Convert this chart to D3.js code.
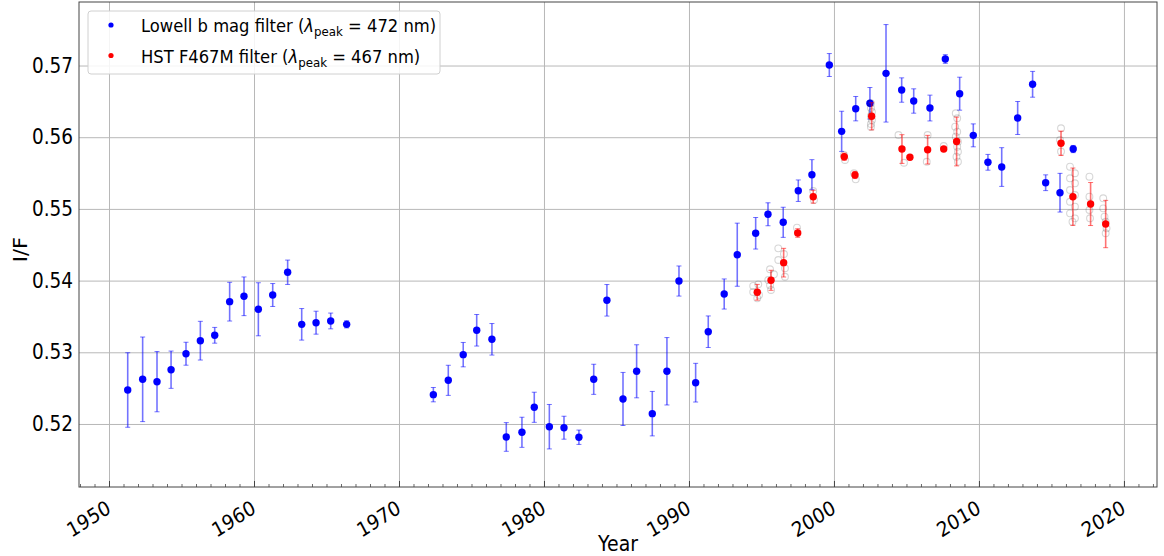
<!DOCTYPE html>
<html>
<head>
<meta charset="utf-8">
<script src="https://cdn.jsdelivr.net/npm/d3@7"></script>
<style>
  html, body { margin: 0; padding: 0; background: #fff; }
  svg { display: block; font-family: "DejaVu Sans", sans-serif; }
</style>
</head>
<body>
<svg id="chart" width="1164" height="556"></svg>
<script>
// Lowell Observatory b-filter photometry (decimal year, I/F, 1-sigma)
const lowellYears = [1951.29, 1952.32, 1953.31, 1954.28, 1955.31, 1956.30, 1957.29, 1958.32, 1959.31, 1960.30,
  1961.29, 1962.32, 1963.29, 1964.28, 1965.29, 1966.39, 1972.37, 1973.40, 1974.43, 1975.36,
  1976.41, 1977.40, 1978.48, 1979.33, 1980.37, 1981.38, 1982.41, 1983.43, 1984.34, 1985.45,
  1986.39, 1987.47, 1988.48, 1989.31, 1990.46, 1991.33, 1992.43, 1993.33, 1994.60, 1995.45,
  1996.50, 1997.54, 1998.48, 1999.68, 2000.53, 2001.50, 2002.48, 2003.59, 2004.67, 2005.50,
  2006.62, 2007.68, 2008.67, 2009.61, 2010.62, 2011.57, 2012.67, 2013.70, 2014.60, 2015.59, 2016.50];
const lowellIF = [0.52474, 0.52623, 0.52590, 0.52757, 0.52980, 0.53162, 0.53237, 0.53706, 0.53781, 0.53600,
  0.53799, 0.54116, 0.53390, 0.53413, 0.53437, 0.53390, 0.52409, 0.52609, 0.52967, 0.53307,
  0.53181, 0.51819, 0.51884, 0.52233, 0.51962, 0.51948, 0.51815, 0.52623, 0.53725, 0.52349,
  0.52735, 0.52144, 0.52735, 0.53994, 0.52576, 0.53287, 0.53813, 0.54361, 0.54660, 0.54925,
  0.54813, 0.55254, 0.55477, 0.57007, 0.56082, 0.56398, 0.56473, 0.56891, 0.56658, 0.56505,
  0.56407, 0.57091, 0.56607, 0.56026, 0.55650, 0.55584, 0.56268, 0.56738, 0.55365, 0.55226, 0.55835];
const lowellErr = [0.0052, 0.0059, 0.0042, 0.0026, 0.0016, 0.0027, 0.0011, 0.0027, 0.0027, 0.0037,
  0.0016, 0.0017, 0.0022, 0.0016, 0.0011, 0.0005, 0.0010, 0.0021, 0.0017, 0.0022,
  0.0022, 0.0020, 0.0021, 0.0021, 0.0031, 0.0016, 0.0010, 0.0021, 0.0022, 0.0037,
  0.0037, 0.0031, 0.0047, 0.0021, 0.0027, 0.0022, 0.0021, 0.0044, 0.0022, 0.0016,
  0.0021, 0.0015, 0.0021, 0.0016, 0.0028, 0.0017, 0.0022, 0.0068, 0.0017, 0.0017,
  0.0018, 0.0006, 0.0023, 0.0016, 0.0011, 0.0027, 0.0023, 0.0018, 0.0011, 0.0027, 0.0005];

// HST WFPC2 / WFC3 F467M epochs (mean I/F and 1-sigma)
const hstYears = [1994.71, 1995.66, 1996.53, 1997.50, 1998.57, 2000.71, 2001.45, 2002.60, 2004.69,
  2005.24, 2006.46, 2007.57, 2008.46, 2015.66, 2016.48, 2017.70, 2018.74];
const hstIF = [0.53837, 0.54004, 0.54250, 0.54664, 0.55170, 0.55728, 0.55473, 0.56292, 0.55835,
  0.55720, 0.55826, 0.55835, 0.55940, 0.55915, 0.55170, 0.55068, 0.54789];
const hstErr = [0.0011, 0.0014, 0.0020, 0.0006, 0.0009, 0.0005, 0.0005, 0.0019, 0.0020,
  0.0002, 0.0020, 0.0002, 0.0034, 0.0017, 0.0040, 0.0030, 0.0033];

// Individual HST frames behind each epoch mean
const frameYears = [1994.43, 1994.78, 1994.43, 1994.71, 1994.83,
  1995.59, 1995.86, 1995.59, 1995.66, 1995.47,
  1996.16, 1996.55, 1996.16, 1996.62, 1996.62,
  1997.45, 1998.57, 1998.62,
  2000.69, 2000.76, 2001.38, 2001.50,
  2002.55, 2002.55, 2002.62, 2002.55, 2002.62, 2002.55, 2002.55,
  2004.45, 2004.83, 2006.46, 2006.40, 2007.57,
  2008.40, 2008.50, 2008.36, 2008.50, 2008.40, 2008.55, 2008.50, 2008.55, 2008.45, 2008.55,
  2015.66, 2015.66, 2015.59,
  2016.28, 2016.62, 2016.28, 2016.62, 2016.28, 2016.62, 2016.28, 2016.62, 2016.28, 2016.62, 2016.45,
  2017.62, 2017.62, 2017.62, 2017.66,
  2018.57, 2018.57, 2018.66, 2018.74, 2018.80, 2018.74];
const frameIF = [0.53925, 0.53948, 0.53841, 0.53753, 0.53799,
  0.54158, 0.54088, 0.53934, 0.53869, 0.54008,
  0.54450, 0.54371, 0.54287, 0.54172, 0.54054,
  0.54738, 0.55250, 0.55124,
  0.55752, 0.55682, 0.55497, 0.55413,
  0.56473, 0.56407, 0.56351, 0.56296, 0.56240, 0.56184, 0.56142,
  0.56031, 0.55644, 0.56031, 0.55658, 0.55877,
  0.56334, 0.56264, 0.56147, 0.56077, 0.56007, 0.55938, 0.55868, 0.55798, 0.55728, 0.55659,
  0.56124, 0.55800, 0.55961,
  0.55589, 0.55497, 0.55427, 0.55357, 0.55264, 0.55194, 0.55100, 0.55031, 0.54938, 0.54868, 0.54821,
  0.55449, 0.55170, 0.54985, 0.54869,
  0.55148, 0.55008, 0.54891, 0.54821, 0.54729, 0.54660];

const xMajorTicks = [1950, 1960, 1970, 1980, 1990, 2000, 2010, 2020];
const yTicks = [0.52, 0.53, 0.54, 0.55, 0.56, 0.57];

const legendLabels = [
  { name: "Lowell b mag filter (", peak: "472", color: "#0000ff" },
  { name: "HST F467M filter (", peak: "467", color: "#ff0000" }
];

// ---- layout ----
const plot = { left: 79, right: 1157, top: 2, bottom: 487 };
const textSquash = 0.9;   // glyphs are set slightly condensed
const svg = d3.select("#chart");

const x = d3.scaleLinear().domain([1947.93, 2022.28]).range([plot.left, plot.right]);
const y = d3.scaleLinear().domain([0.51121, 0.57886]).range([plot.bottom, plot.top]);

const W = plot.right - plot.left, H = plot.bottom - plot.top;
const gridColor = "#b8b8b8";

// grid
svg.append("g")
  .attr("transform", `translate(0,${plot.bottom})`)
  .call(d3.axisBottom(x).tickValues(xMajorTicks).tickSize(-H).tickFormat(""))
  .call(g => g.select(".domain").remove())
  .call(g => g.selectAll("line").attr("stroke", gridColor).attr("stroke-width", 1));
svg.append("g")
  .attr("transform", `translate(${plot.left},0)`)
  .call(d3.axisLeft(y).tickValues(yTicks).tickSize(-W).tickFormat(""))
  .call(g => g.select(".domain").remove())
  .call(g => g.selectAll("line").attr("stroke", gridColor).attr("stroke-width", 1));

// clip for data
svg.append("clipPath").attr("id", "plotClip")
  .append("rect").attr("x", plot.left).attr("y", plot.top).attr("width", W).attr("height", H);
const data = svg.append("g").attr("clip-path", "url(#plotClip)");

function errorBars(g, years, vals, errs, color) {
  const grp = g.append("g").attr("stroke", color).attr("stroke-opacity", 0.55);
  years.forEach((yr, i) => {
    const cx = x(yr), lo = y(vals[i] - errs[i]), hi = y(vals[i] + errs[i]);
    grp.append("line").attr("x1", cx).attr("x2", cx).attr("y1", lo).attr("y2", hi).attr("stroke-width", 1.6);
    grp.append("line").attr("x1", cx - 2.5).attr("x2", cx + 2.5).attr("y1", lo).attr("y2", lo).attr("stroke-width", 1);
    grp.append("line").attr("x1", cx - 2.5).attr("x2", cx + 2.5).attr("y1", hi).attr("y2", hi).attr("stroke-width", 1);
  });
}

// Lowell series
errorBars(data, lowellYears, lowellIF, lowellErr, "#0000ff");
data.append("g").selectAll("circle").data(lowellYears).join("circle")
  .attr("cx", d => x(d)).attr("cy", (d, i) => y(lowellIF[i])).attr("r", 3.7).attr("fill", "#0000ff");

// individual HST frames
data.append("g").selectAll("circle").data(frameYears).join("circle")
  .attr("cx", d => x(d)).attr("cy", (d, i) => y(frameIF[i])).attr("r", 3.4)
  .attr("fill", "none").attr("stroke", "#000").attr("stroke-opacity", 0.16).attr("stroke-width", 1.1);

// HST epoch means
errorBars(data, hstYears, hstIF, hstErr, "#ff0000");
data.append("g").selectAll("circle").data(hstYears).join("circle")
  .attr("cx", d => x(d)).attr("cy", (d, i) => y(hstIF[i])).attr("r", 3.7).attr("fill", "#ff0000");

// ---- axes ----
const axisColor = "#444";
const tickFont = 20.5;

// bottom axis: major ticks with rotated labels, minor yearly ticks, inward
const minorTicks = d3.range(1948, 2023).filter(v => v % 10 !== 0);
svg.append("g")
  .attr("transform", `translate(0,${plot.bottom})`)
  .call(d3.axisBottom(x).tickValues(minorTicks).tickSize(-3).tickFormat(""))
  .call(g => g.select(".domain").remove())
  .call(g => g.selectAll("line").attr("stroke", axisColor).attr("stroke-width", 0.8));

svg.append("g")
  .attr("transform", `translate(0,${plot.bottom})`)
  .call(d3.axisBottom(x).tickValues(xMajorTicks).tickSize(-6).tickFormat(d3.format("d")))
  .call(g => g.select(".domain").remove())
  .call(g => g.selectAll("line").attr("stroke", axisColor).attr("stroke-width", 1))
  .call(g => g.selectAll("text")
    .attr("fill", "#000")
    .attr("font-size", tickFont)
    .attr("font-family", "DejaVu Sans")
    .attr("text-anchor", "end")
    .attr("dy", null)
    .attr("y", 0)
    .attr("transform", `translate(0,20) scale(${textSquash},1) rotate(-30)`)
    .attr("dominant-baseline", "middle"));

// left axis labels
svg.append("g")
  .attr("transform", `translate(${plot.left},0)`)
  .call(d3.axisLeft(y).tickValues(yTicks).tickSize(0).tickFormat(d3.format(".2f")))
  .call(g => g.select(".domain").remove())
  .call(g => g.selectAll("text")
    .attr("fill", "#000").attr("font-size", tickFont).attr("font-family", "DejaVu Sans")
    .attr("x", 0).attr("transform", `translate(-6,0) scale(${textSquash},1)`));

// frame
svg.append("rect")
  .attr("x", plot.left).attr("y", plot.top).attr("width", W).attr("height", H)
  .attr("fill", "none").attr("stroke", axisColor).attr("stroke-width", 1);

// axis titles
svg.append("text")
  .attr("transform", `translate(${(plot.left + plot.right) / 2},551) scale(${textSquash},1)`)
  .attr("text-anchor", "middle").attr("font-size", 21).text("Year");
svg.append("text")
  .attr("transform", `translate(27,${(plot.top + plot.bottom) / 2 + 5}) scale(${textSquash},1) rotate(-90)`)
  .attr("text-anchor", "middle").attr("font-size", 21).text("I/F");

// ---- legend ----
const legend = svg.append("g");
legend.append("rect").attr("x", 88).attr("y", 11).attr("width", 352).attr("height", 63).attr("rx", 3)
  .attr("fill", "#fff").attr("fill-opacity", 0.85).attr("stroke", "#d0d0d0");
legendLabels.forEach((d, i) => {
  const cy = 25 + i * 30.5;
  legend.append("circle").attr("cx", 111).attr("cy", cy).attr("r", 2.6).attr("fill", d.color);
  const t = legend.append("text")
    .attr("transform", `translate(141,${cy + 7}) scale(0.91,1)`)
    .attr("font-size", 18);
  t.append("tspan").text(d.name);
  t.append("tspan").attr("font-style", "italic").text("λ");
  t.append("tspan").attr("font-size", 13).attr("dy", 4).text("peak");
  t.append("tspan").attr("dy", -4).text(" = " + d.peak + " nm)");
});
</script>
</body>
</html>
